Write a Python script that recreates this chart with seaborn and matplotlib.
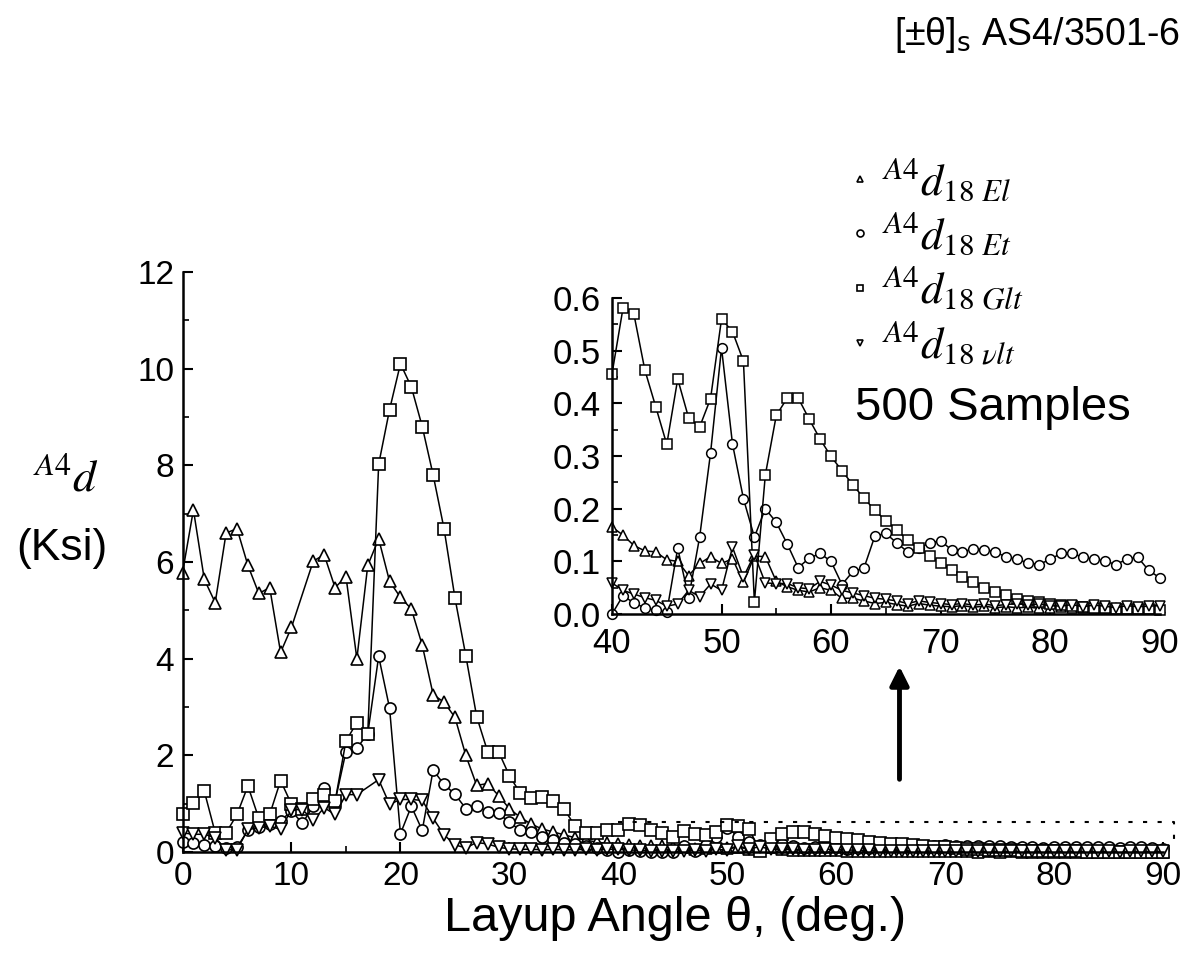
import numpy as np
import pandas as pd
import matplotlib
matplotlib.use("Agg")
import matplotlib.pyplot as plt
from matplotlib.lines import Line2D
from matplotlib.ticker import MultipleLocator, FormatStrFormatter
import seaborn as sns

# layup angle, deg
angles = list(range(0, 91))

# A4 d18 El  (up triangles), nan = no marker read at that angle
d_El = [5.78, 7.08, 5.64, 5.16, 6.60, 6.69, 5.93, 5.35, 5.47, 4.13,
        4.65, np.nan, 6.02, 6.15, 5.47, 5.70, 4.00, 5.93, 6.48, 5.60,
        5.27, 5.03, 4.28, 3.26, 3.10, 2.79, 2.00, 1.38, 1.42, 1.17,
        0.90, 0.72, 0.58, 0.48, 0.42, 0.36, 0.30, 0.25, 0.21, 0.18,
        0.165, 0.150, 0.130, 0.120, 0.118, 0.103, 0.100, 0.073, 0.096, 0.109,
        0.096, 0.105, 0.060, 0.110, 0.109, 0.062, 0.052, 0.045, 0.042, 0.050,
        0.045, 0.030, 0.030, 0.025, 0.020, 0.022, 0.018, 0.015, 0.020, 0.017,
        0.015, 0.014, 0.016, 0.013, 0.015, 0.012, 0.014, 0.012, 0.013, 0.011,
        0.012, 0.013, 0.011, 0.012, 0.010, 0.012, 0.011, 0.013, 0.011, 0.012,
        0.012]

# A4 d18 Et  (circles)
d_Et = [0.22, 0.20, 0.15, 0.12, 0.08, 0.10, 0.45, 0.52, 0.58, 0.65,
        0.85, 0.60, 0.95, 1.32, 1.05, 2.08, 2.15, 2.45, 4.05, 2.98,
        0.38, 0.95, 0.45, 1.70, 1.40, 1.20, 0.90, 0.95, 0.84, 0.80,
        0.62, 0.45, 0.42, 0.32, 0.25, 0.20, 0.16, 0.12, 0.08, 0.05,
        0.000, 0.035, 0.021, 0.012, 0.007, 0.004, 0.125, 0.031, 0.146, 0.306,
        0.505, 0.323, 0.219, 0.146, 0.200, 0.174, 0.133, 0.088, 0.106, 0.115,
        0.100, 0.056, 0.081, 0.087, 0.148, 0.153, 0.135, 0.118, 0.125, 0.135,
        0.139, 0.122, 0.118, 0.124, 0.122, 0.118, 0.108, 0.104, 0.097, 0.094,
        0.104, 0.115, 0.115, 0.108, 0.104, 0.101, 0.094, 0.104, 0.108, 0.083,
        0.069]

# A4 d18 Glt  (squares)
d_Glt = [0.78, 1.02, 1.26, 0.40, 0.40, 0.78, 1.37, 0.70, 0.78, 1.48,
         0.99, 0.90, 1.10, 1.18, 1.05, 2.30, 2.68, 2.45, 8.02, 9.15,
         10.10, 9.62, 8.80, 7.80, 6.69, 5.26, 4.06, 2.80, 2.08, 2.08,
         1.58, 1.22, 1.12, 1.15, 1.05, 0.90, 0.55, 0.40, 0.40, 0.45,
         0.456, 0.580, 0.569, 0.463, 0.393, 0.322, 0.446, 0.372, 0.355, 0.409,
         0.560, 0.536, 0.480, 0.023, 0.264, 0.377, 0.410, 0.410, 0.370, 0.332,
         0.299, 0.272, 0.245, 0.220, 0.197, 0.177, 0.160, 0.140, 0.125, 0.110,
         0.097, 0.083, 0.070, 0.060, 0.050, 0.042, 0.037, 0.029, 0.025, 0.023,
         0.020, 0.017, 0.015, 0.013, 0.012, 0.011, 0.010, 0.010, 0.009, 0.009,
         0.008]

# A4 d18 vlt  (down triangles)
d_vlt = [0.40, 0.37, 0.37, 0.30, 0.05, 0.05, 0.47, 0.50, 0.54, 0.47,
         0.88, 0.88, 0.66, 0.92, 0.78, 1.19, 1.19, np.nan, 1.50, 0.99,
         1.09, 1.09, 1.07, 0.70, 0.36, 0.15, 0.09, 0.20, 0.17, 0.10,
         0.07, 0.06, 0.06, 0.05, 0.06, 0.05, 0.05, 0.06, 0.05, 0.06,
         0.059, 0.045, 0.038, 0.031, 0.026, 0.015, 0.019, 0.045, 0.033, 0.057,
         0.045, 0.127, 0.070, 0.113, 0.059, 0.058, 0.058, 0.050, 0.048, 0.062,
         0.055, 0.045, 0.040, 0.035, 0.030, 0.028, 0.025, 0.020, 0.025, 0.022,
         0.020, 0.018, 0.020, 0.017, 0.019, 0.016, 0.018, 0.020, 0.017, 0.019,
         0.016, 0.015, 0.018, 0.014, 0.017, 0.015, 0.012, 0.016, 0.014, 0.015,
         0.016]

series_names = ["El", "Et", "Glt", "vlt"]
series_markers = {"El": "^", "Et": "o", "Glt": "s", "vlt": "v"}
legend_labels = {"El": r"$^{A4}d_{\mathrm{18}\ El}$",
                 "Et": r"$^{A4}d_{\mathrm{18}\ Et}$",
                 "Glt": r"$^{A4}d_{\mathrm{18}\ Glt}$",
                 "vlt": r"$^{A4}d_{\mathrm{18}\ \nu lt}$"}

rows = []
for name, vals in zip(series_names, [d_El, d_Et, d_Glt, d_vlt]):
    for a, v in zip(angles, vals):
        rows.append((a, v, name))
df = pd.DataFrame(rows, columns=["angle", "d", "series"]).dropna()

sns.set_style("ticks")
plt.rcParams["font.family"] = ["Liberation Sans", "DejaVu Sans"]
plt.rcParams["mathtext.fontset"] = "stix"
for k in ["text.color", "axes.labelcolor", "xtick.color", "ytick.color", "axes.edgecolor"]:
    plt.rcParams[k] = "black"

fig = plt.figure(figsize=(11.93, 9.64), dpi=100)
ax = fig.add_axes([0.153, 0.116, 0.822, 0.602])
ins = fig.add_axes([0.513, 0.363, 0.459, 0.328])
ins.patch.set_alpha(0)

#main plot, all angles
for name in series_names:
    sub = df[df["series"] == name]
    sns.lineplot(data=sub, x="angle", y="d", ax=ax, estimator=None, sort=True,
                 color="black", lw=1.1, marker=series_markers[name], markersize=8,
                 markerfacecolor="white", markeredgecolor="black",
                 markeredgewidth=1.2, clip_on=False)

#inset, 40-90 deg
for name in series_names:
    sub = df[(df["series"] == name) & (df["angle"] >= 40)]
    sns.lineplot(data=sub, x="angle", y="d", ax=ins, estimator=None, sort=True,
                 color="black", lw=1.1, marker=series_markers[name], markersize=7,
                 markerfacecolor="white", markeredgecolor="black",
                 markeredgewidth=1.1, clip_on=False)

for a, lsz in [(ax, 24), (ins, 25)]:
    sns.despine(ax=a)
    a.set_xlabel("")
    a.set_ylabel("")
    for s in ["left", "bottom"]:
        a.spines[s].set_linewidth(1.8)
    a.tick_params(which="major", direction="in", length=7, width=1.5, labelsize=lsz, pad=6)
    a.tick_params(which="minor", direction="in", length=4, width=1.2)
ins.tick_params(axis="x", which="major", pad=9)
ins.tick_params(axis="y", which="major", pad=8)

ax.set_xlim(0, 90)
ax.set_ylim(0, 12)
ax.xaxis.set_major_locator(MultipleLocator(10))
ax.xaxis.set_minor_locator(MultipleLocator(5))
ax.yaxis.set_major_locator(MultipleLocator(2))
ax.yaxis.set_minor_locator(MultipleLocator(1))

ins.set_xlim(40, 90)
ins.set_ylim(0, 0.6)
ins.xaxis.set_major_locator(MultipleLocator(10))
ins.xaxis.set_minor_locator(MultipleLocator(5))
ins.yaxis.set_major_locator(MultipleLocator(0.1))
ins.yaxis.set_minor_locator(MultipleLocator(0.05))
ins.yaxis.set_major_formatter(FormatStrFormatter("%.1f"))

# dotted outline of the zoomed region + arrow to the inset
ax.plot([40, 91, 91], [0.62, 0.62, 0.1], color="black", lw=1.5,
        ls=(0, (2, 5)), clip_on=False)
ax.annotate("", xy=(65.8, 3.9), xytext=(65.8, 1.45),
            arrowprops=dict(arrowstyle="-|>", lw=3.5, color="black", mutation_scale=28))

handles = [Line2D([], [], ls="none", marker=series_markers[n], markersize=5,
                  markerfacecolor="white", markeredgecolor="black", markeredgewidth=1.2)
           for n in series_names]
fig.legend(handles, [legend_labels[n] for n in series_names], loc="upper left",
           bbox_to_anchor=(0.676, 0.878), frameon=False, fontsize=32,
           handlelength=0.6, handletextpad=0.2, labelspacing=0.17)

fig.text(0.989, 0.964, r"[±θ]$_{\mathrm{s}}$ AS4/3501-6", ha="right", va="center",
         fontsize=27, math_fontfamily="dejavusans")
fig.text(0.717, 0.577, "500 Samples", ha="left", va="center", fontsize=34)
fig.text(0.055, 0.503, r"$^{A4}d$", ha="center", va="center", fontsize=33)
fig.text(0.052, 0.431, "(Ksi)", ha="center", va="center", fontsize=32)
fig.text(0.566, 0.047, "Layup Angle θ, (deg.)", ha="center", va="center", fontsize=35)

fig.savefig("out.png", dpi=100)
